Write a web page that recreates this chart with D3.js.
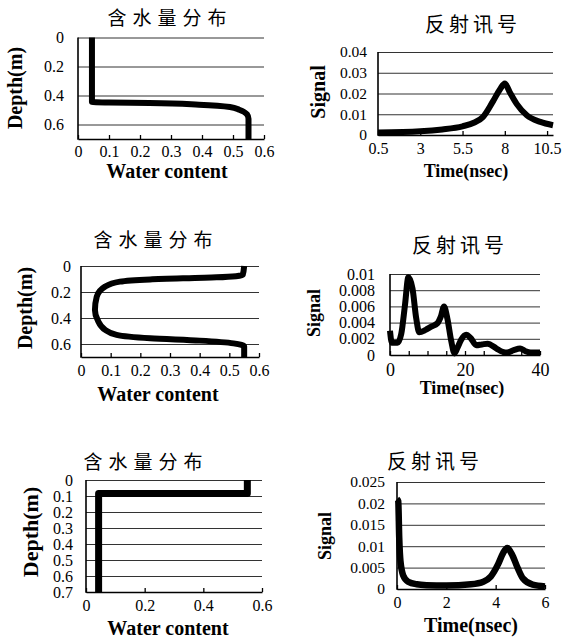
<!DOCTYPE html>
<html>
<head>
<meta charset="utf-8">
<script src="https://cdn.jsdelivr.net/npm/d3@7"></script>
<style>
  body { margin: 0; background: #fff; }
  svg { display: block; }
  .tick text { font-family: "Liberation Serif", "Times New Roman", serif; fill: #000; }
  .axisText { font-family: "Liberation Serif", "Times New Roman", serif; font-weight: bold; }
  .title { font-family: "Noto Sans CJK SC", sans-serif; }
</style>
</head>
<body>
<div id="chart"></div>
<script>
// Panel 1: water content profile (step at 0.45 m) and its signal
var depth1 = [0, 0.2, 0.445, 0.448, 0.452, 0.463, 0.479, 0.498, 0.53, 0.56, 0.7];
var water1 = [0.045, 0.045, 0.045, 0.1, 0.23, 0.39, 0.49, 0.52, 0.545, 0.55, 0.55];
var time2 = [0.5, 3, 4.3, 5.5, 6.2, 6.7, 7.3, 7.7, 8, 8.3, 8.7, 9.3, 10.1, 10.85];
var signal2 = [0.0012, 0.0018, 0.0027, 0.0042, 0.006, 0.0086, 0.0162, 0.0218, 0.0248, 0.0205, 0.015, 0.0095, 0.0063, 0.0047];

// Panel 2: dry layer between two wet layers
var depth3 = [0, 0.069, 0.087, 0.103, 0.12, 0.159, 0.236, 0.338, 0.415, 0.49, 0.53, 0.556, 0.574, 0.595, 0.62, 0.7];
var water3 = [0.55, 0.545, 0.457, 0.233, 0.131, 0.081, 0.053, 0.047, 0.056, 0.081, 0.12, 0.233, 0.4, 0.514, 0.55, 0.55];
var time4 = [0, 0.5, 2, 3, 4, 4.9, 6, 7, 7.8, 9.5, 11, 12.6, 13.6, 14.4, 15.3, 16.3, 17.2, 18, 19, 20.3, 21.5, 23, 24.5, 26, 28.4, 30, 31.2, 33, 34.7, 36, 37.5, 40];
var signal4 = [0.003, 0.0015, 0.0015, 0.0026, 0.0062, 0.0096, 0.0082, 0.0045, 0.0028, 0.0031, 0.0035, 0.0039, 0.0048, 0.006, 0.0045, 0.0018, 0.0002, 0.0009, 0.0019, 0.0025, 0.0021, 0.0012, 0.0013, 0.0014, 0.0008, 0.0004, 0.0003, 0.0006, 0.0008, 0.0005, 0.0003, 0.0003];

// Panel 3: thin wet top layer
var depth5 = [0, 0.085, 0.085, 0.7];
var water5 = [0.55, 0.55, 0.043, 0.043];
var time6 = [0, 0.05, 0.09, 0.14, 0.25, 0.45, 0.8, 1.2, 2, 3, 3.5, 3.8, 4.1, 4.3, 4.47, 4.65, 4.9, 5.1, 5.5, 6];
var signal6 = [0.021, 0.0205, 0.012, 0.0065, 0.0032, 0.0017, 0.0011, 0.0009, 0.0008, 0.0011, 0.0017, 0.0029, 0.0058, 0.0084, 0.0096, 0.0082, 0.0048, 0.0025, 0.001, 0.0006];

// Tick values and labels
var waterTicks = [0, 0.1, 0.2, 0.3, 0.4, 0.5, 0.6];
var waterLabels = ["0", "0.1", "0.2", "0.3", "0.4", "0.5", "0.6"];
var depthTicks = [0, 0.2, 0.4, 0.6];
var depthLabels = ["0", "0.2", "0.4", "0.6"];
var time2Ticks = [0.5, 3, 5.5, 8, 10.5];
var time2Labels = ["0.5", "3", "5.5", "8", "10.5"];
var signal2Ticks = [0, 0.01, 0.02, 0.03, 0.04];
var signal2Labels = ["0", "0.01", "0.02", "0.03", "0.04"];
var time4Ticks = [0, 5, 10, 15, 20, 25, 30, 35, 40];
var time4Labels = ["0", "", "", "", "20", "", "", "", "40"];
var signal4Ticks = [0, 0.002, 0.004, 0.006, 0.008, 0.01];
var signal4Labels = ["0", "0.002", "0.004", "0.006", "0.008", "0.01"];
var water5Ticks = [0, 0.2, 0.4, 0.6];
var water5Labels = ["0", "0.2", "0.4", "0.6"];
var depth5Ticks = [0, 0.1, 0.2, 0.3, 0.4, 0.5, 0.6, 0.7];
var depth5Labels = ["0", "0.1", "0.2", "0.3", "0.4", "0.5", "0.6", "0.7"];
var time6Ticks = [0, 2, 4, 6];
var time6Labels = ["0", "2", "4", "6"];
var signal6Ticks = [0, 0.005, 0.01, 0.015, 0.02, 0.025];
var signal6Labels = ["0", "0.005", "0.01", "0.015", "0.02", "0.025"];

var svg = d3.select("#chart")
  .append("svg")
  .attr("width", 565)
  .attr("height", 638);

function drawPanel(p) {
  var x = d3.scaleLinear().domain(p.xDomain).range([p.left, p.right]);
  // depth profiles grow downwards, signals grow upwards
  var y = d3.scaleLinear().domain(p.yDomain)
    .range(p.profile ? [p.top, p.bottom] : [p.bottom, p.top]);

  var g = svg.append("g");

  // gridlines + y labels
  var yAxis = g.append("g")
    .attr("transform", `translate(${p.left},0)`)
    .call(d3.axisLeft(y)
      .tickValues(p.yTicks)
      .tickFormat((d, i) => p.yLabels[i])
      .tickSizeInner(-(p.right - p.left))
      .tickSizeOuter(0)
      .tickPadding(p.yPad));
  yAxis.select(".domain").remove();
  yAxis.selectAll(".tick line").attr("stroke", "#333").attr("stroke-width", 1);
  yAxis.selectAll(".tick text").style("font-size", p.yTickSize + "px");

  // x axis with inward ticks
  var xAxis = g.append("g")
    .attr("transform", `translate(0,${p.bottom})`)
    .call(d3.axisBottom(x)
      .tickValues(p.xTicks)
      .tickFormat((d, i) => p.xLabels[i])
      .tickSizeInner(-4)
      .tickSizeOuter(0)
      .tickPadding(p.xPad));
  xAxis.select(".domain").attr("stroke", "#000").attr("stroke-width", 1.6);
  xAxis.selectAll(".tick line").attr("stroke", "#000").attr("stroke-width", 1.3);
  xAxis.selectAll(".tick text").style("font-size", p.xTickSize + "px");

  // left axis line
  g.append("line")
    .attr("x1", p.left).attr("x2", p.left)
    .attr("y1", p.top).attr("y2", p.bottom + 0.8)
    .attr("stroke", "#000")
    .attr("stroke-width", 1.6);

  // the curve
  var line = d3.line()
    .x(d => x(d[0]))
    .y(d => y(d[1]))
    .curve(p.curve);

  g.append("path")
    .datum(d3.zip(p.xs, p.ys))
    .attr("d", line)
    .attr("fill", "none")
    .attr("stroke", "#000")
    .attr("stroke-width", p.lineWidth)
    .attr("stroke-linejoin", "round");

  // title
  g.append("text")
    .attr("class", "title")
    .attr("x", p.title[0] + p.titleSpacing / 2)
    .attr("y", p.title[1])
    .attr("dy", "0.35em")
    .attr("text-anchor", "middle")
    .style("font-size", p.titleSize + "px")
    .style("letter-spacing", p.titleSpacing + "px")
    .text(p.titleText);

  // x label
  g.append("text")
    .attr("class", "axisText")
    .attr("x", p.xLabelPos[0])
    .attr("y", p.xLabelPos[1])
    .attr("dy", "0.35em")
    .attr("text-anchor", "middle")
    .style("font-size", p.xLabelSize + "px")
    .text(p.xLabelText);

  // y label
  g.append("text")
    .attr("class", "axisText")
    .attr("transform", `translate(${p.yLabelPos[0]},${p.yLabelPos[1]}) rotate(-90)`)
    .attr("dy", "0.35em")
    .attr("text-anchor", "middle")
    .style("font-size", p.yLabelSize + "px")
    .text(p.yLabelText);
}

var profileTitle = "含水量分布";
var signalTitle = "反射讯号";

// Row 1
drawPanel({
  left: 78, right: 264, top: 37.5, bottom: 139, profile: true,
  xDomain: [0, 0.6], yDomain: [0, 0.7],
  xTicks: waterTicks, xLabels: waterLabels, yTicks: depthTicks, yLabels: depthLabels,
  xs: water1, ys: depth1, curve: d3.curveMonotoneY, lineWidth: 6,
  yPad: 14, xPad: 7, xTickSize: 16, yTickSize: 16,
  title: [167, 18], titleText: profileTitle, titleSize: 19, titleSpacing: 6,
  xLabelPos: [167, 171], xLabelText: "Water content", xLabelSize: 20,
  yLabelPos: [15, 88], yLabelText: "Depth(m)", yLabelSize: 20
});
drawPanel({
  left: 378, right: 553, top: 52, bottom: 135, profile: false,
  xDomain: [0.5, 10.85], yDomain: [0, 0.04],
  xTicks: time2Ticks, xLabels: time2Labels, yTicks: signal2Ticks, yLabels: signal2Labels,
  xs: time2, ys: signal2, curve: d3.curveMonotoneX, lineWidth: 6,
  yPad: 11, xPad: 8, xTickSize: 16, yTickSize: 15.5,
  title: [471, 25], titleText: signalTitle, titleSize: 20, titleSpacing: 4,
  xLabelPos: [466, 171], xLabelText: "Time(nsec)", xLabelSize: 18,
  yLabelPos: [318, 92], yLabelText: "Signal", yLabelSize: 20
});

// Row 2
drawPanel({
  left: 81, right: 259, top: 266, bottom: 357, profile: true,
  xDomain: [0, 0.6], yDomain: [0, 0.7],
  xTicks: waterTicks, xLabels: waterLabels, yTicks: depthTicks, yLabels: depthLabels,
  xs: water3, ys: depth3, curve: d3.curveMonotoneY, lineWidth: 6,
  yPad: 10, xPad: 8, xTickSize: 16, yTickSize: 16,
  title: [153, 240], titleText: profileTitle, titleSize: 19, titleSpacing: 6,
  xLabelPos: [158, 394], xLabelText: "Water content", xLabelSize: 20,
  yLabelPos: [25, 308], yLabelText: "Depth(m)", yLabelSize: 20
});
drawPanel({
  left: 390, right: 540, top: 274, bottom: 355, profile: false,
  xDomain: [0, 40], yDomain: [0, 0.01],
  xTicks: time4Ticks, xLabels: time4Labels, yTicks: signal4Ticks, yLabels: signal4Labels,
  xs: time4, ys: signal4, curve: d3.curveMonotoneX, lineWidth: 6,
  yPad: 15, xPad: 8, xTickSize: 18, yTickSize: 16,
  title: [458, 246], titleText: signalTitle, titleSize: 20, titleSpacing: 4,
  xLabelPos: [462, 388], xLabelText: "Time(nsec)", xLabelSize: 18,
  yLabelPos: [314, 313], yLabelText: "Signal", yLabelSize: 18
});

// Row 3
drawPanel({
  left: 86, right: 262, top: 480, bottom: 592, profile: true,
  xDomain: [0, 0.6], yDomain: [0, 0.7],
  xTicks: water5Ticks, xLabels: water5Labels, yTicks: depth5Ticks, yLabels: depth5Labels,
  xs: water5, ys: depth5, curve: d3.curveLinear, lineWidth: 7,
  yPad: 13, xPad: 8, xTickSize: 16, yTickSize: 16,
  title: [143, 462], titleText: profileTitle, titleSize: 19, titleSpacing: 6,
  xLabelPos: [168, 628], xLabelText: "Water content", xLabelSize: 20,
  yLabelPos: [30, 532], yLabelText: "Depth(m)", yLabelSize: 22
});
drawPanel({
  left: 397, right: 545, top: 482, bottom: 589, profile: false,
  xDomain: [0, 6], yDomain: [0, 0.025],
  xTicks: time6Ticks, xLabels: time6Labels, yTicks: signal6Ticks, yLabels: signal6Labels,
  xs: time6, ys: signal6, curve: d3.curveMonotoneX, lineWidth: 6.5,
  yPad: 12, xPad: 8, xTickSize: 16, yTickSize: 15.5,
  title: [433, 462], titleText: signalTitle, titleSize: 20, titleSpacing: 4,
  xLabelPos: [471, 625], xLabelText: "Time(nsec)", xLabelSize: 20,
  yLabelPos: [325, 536], yLabelText: "Signal", yLabelSize: 18
});
</script>
</body>
</html>
